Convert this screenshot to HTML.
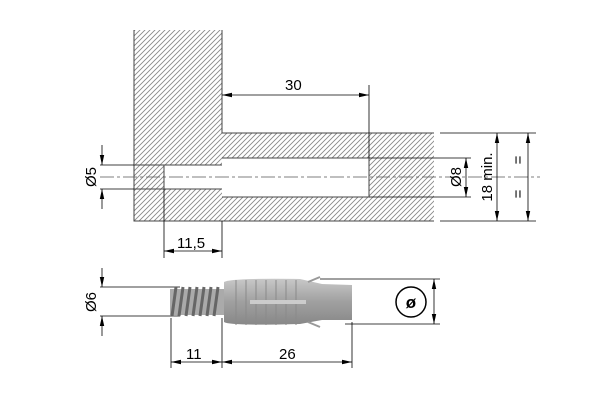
<!DOCTYPE html>
<html><head><style>body{margin:0;background:#fff}svg{display:block}</style></head><body>
<svg width="600" height="400" viewBox="0 0 600 400" xmlns="http://www.w3.org/2000/svg" font-family="Liberation Sans, sans-serif">
<defs>
<pattern id="h" patternUnits="userSpaceOnUse" width="5" height="5">
<path d="M-1,6 L6,-1 M-1,1 L1,-1 M4,6 L6,4" stroke="#888" stroke-width="0.9"/>
</pattern>
<marker id="a" markerWidth="10" markerHeight="6" refX="10" refY="3" orient="auto-start-reverse" markerUnits="userSpaceOnUse"><path d="M0,0.8 L10,3 L0,5.2z" fill="#000"/></marker>
<linearGradient id="g" x1="0" y1="0" x2="0" y2="1"><stop offset="0" stop-color="#c8c8c8"/><stop offset="0.5" stop-color="#a0a0a0"/><stop offset="1" stop-color="#888"/></linearGradient>
</defs>
<g stroke="#555" stroke-width="1">
<rect x="134" y="30" width="88" height="191" fill="url(#h)" stroke="none"/>
<rect x="222" y="133" width="212" height="88" fill="url(#h)" stroke="none"/>
<rect x="164" y="165" width="58" height="24" fill="#fff" stroke="none"/>
<rect x="222" y="158" width="147" height="39" fill="#fff" stroke="none"/>
<path d="M134,30 V221 H434 M222,30 V133 H434 M222,158 H369 V197 H222 M134,165 H222 M134,189 H222 M164,165 V189" fill="none" stroke="#444"/>
</g>
<g stroke="#000" stroke-width="0.8" fill="none">
<line x1="100" y1="177" x2="540" y2="177" stroke-dasharray="14,3,3,3" stroke="#555"/>
<line x1="369" y1="85" x2="369" y2="158"/>
<line x1="222" y1="95" x2="369" y2="95" marker-start="url(#a)" marker-end="url(#a)"/>
<line x1="440" y1="133" x2="536" y2="133"/><line x1="440" y1="221" x2="536" y2="221"/>
<line x1="369" y1="158" x2="471" y2="158"/><line x1="369" y1="197" x2="471" y2="197"/>
<line x1="466" y1="158" x2="466" y2="197" marker-start="url(#a)" marker-end="url(#a)"/>
<line x1="497" y1="133" x2="497" y2="221" marker-start="url(#a)" marker-end="url(#a)"/>
<line x1="528" y1="133" x2="528" y2="221" marker-start="url(#a)" marker-end="url(#a)"/>
<line x1="100" y1="165" x2="134" y2="165"/><line x1="100" y1="189" x2="134" y2="189"/>
<line x1="102" y1="145" x2="102" y2="165" marker-end="url(#a)"/>
<line x1="102" y1="209" x2="102" y2="189" marker-end="url(#a)"/>
<line x1="164" y1="189" x2="164" y2="258"/><line x1="222" y1="221" x2="222" y2="258"/>
<line x1="164" y1="251" x2="222" y2="251" marker-start="url(#a)" marker-end="url(#a)"/>
<line x1="100" y1="287" x2="180" y2="287"/><line x1="100" y1="316" x2="180" y2="316"/>
<line x1="102" y1="268" x2="102" y2="287" marker-end="url(#a)"/>
<line x1="102" y1="336" x2="102" y2="316" marker-end="url(#a)"/>
<line x1="320" y1="279" x2="440" y2="279"/><line x1="345" y1="324" x2="440" y2="324"/>
<line x1="434" y1="279" x2="434" y2="324" marker-start="url(#a)" marker-end="url(#a)"/>
<circle cx="411" cy="302" r="15" stroke-width="1.5"/>
<line x1="171" y1="318" x2="171" y2="368"/><line x1="222" y1="318" x2="222" y2="368"/><line x1="352" y1="322" x2="352" y2="368"/>
<line x1="171" y1="362" x2="222" y2="362" marker-start="url(#a)" marker-end="url(#a)"/>
<line x1="222" y1="362" x2="352" y2="362" marker-start="url(#a)" marker-end="url(#a)"/>
</g>
<g>
<rect x="170" y="289" width="54" height="26" fill="#aaa"/>
<g stroke="#666" stroke-width="3">
<line x1="176" y1="287" x2="172" y2="316"/><line x1="183" y1="287" x2="179" y2="316"/><line x1="190" y1="287" x2="186" y2="316"/><line x1="197" y1="287" x2="193" y2="316"/><line x1="204" y1="287" x2="200" y2="316"/><line x1="211" y1="287" x2="207" y2="316"/><line x1="218" y1="287" x2="214" y2="316"/>
</g>
<path d="M224,282 Q230,278 300,279 L322,284 L352,285 L352,320 L322,320 L300,324 Q230,326 224,322 Z" fill="url(#g)"/>
<g stroke="#8a8a8a" stroke-width="1"><line x1="236" y1="280" x2="236" y2="325"/><line x1="246" y1="280" x2="246" y2="325"/><line x1="256" y1="280" x2="256" y2="325"/><line x1="266" y1="280" x2="266" y2="325"/><line x1="276" y1="280" x2="276" y2="325"/><line x1="286" y1="280" x2="286" y2="325"/><line x1="296" y1="280" x2="296" y2="325"/></g>
<rect x="250" y="300" width="56" height="4" fill="#ccc"/>
<path d="M308,282 L320,277 M308,322 L320,327" stroke="#999" stroke-width="2"/>
</g>
<g font-size="15" fill="#000">
<text x="285" y="90">30</text>
<text x="177" y="248">11,5</text>
<text x="186" y="359">11</text>
<text x="279" y="359">26</text>
<text transform="translate(96,177) rotate(-90)" text-anchor="middle">Ø5</text>
<text transform="translate(96,302) rotate(-90)" text-anchor="middle">Ø6</text>
<text transform="translate(461,177) rotate(-90)" text-anchor="middle">Ø8</text>
<text transform="translate(492,177) rotate(-90)" text-anchor="middle">18 min.</text>
<text transform="translate(523,160) rotate(-90)" text-anchor="middle">=</text>
<text transform="translate(523,194) rotate(-90)" text-anchor="middle">=</text>
<text x="411" y="308" text-anchor="middle" font-size="17" font-weight="bold">ø</text>
</g>
</svg>
</body></html>
